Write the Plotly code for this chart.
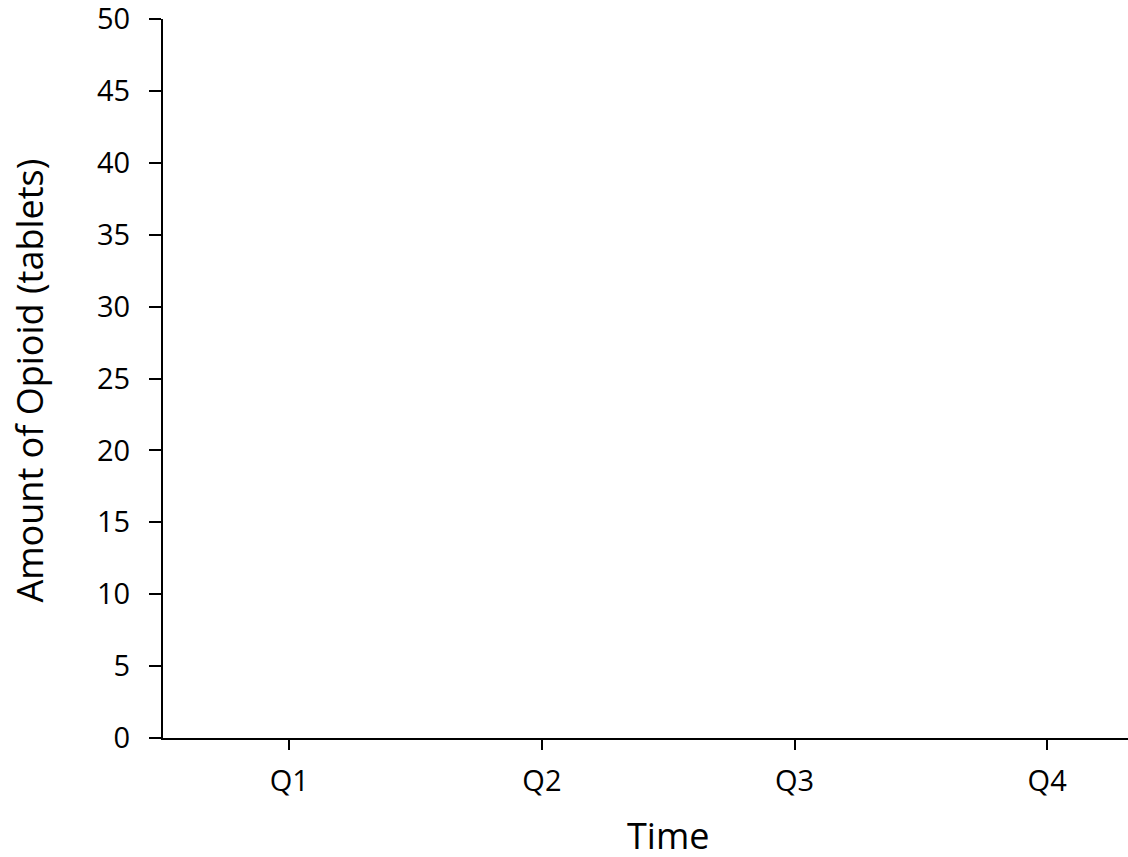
import plotly.graph_objects as go

# Data
categories = ["Q1", "Q2", "Q3", "Q4"]
opioid_amount = [None, None, None, None]  # chart shows no plotted values
y_ticks = [0, 5, 10, 15, 20, 25, 30, 35, 40, 45, 50]

FONT = "Open Sans"

fig = go.Figure()
fig.add_trace(go.Scatter(x=categories, y=opioid_amount, mode="lines+markers",
                         showlegend=False, line=dict(color="black")))

fig.update_layout(
    width=1128, height=857,
    margin=dict(l=163, r=0, t=19, b=119, autoexpand=False),
    paper_bgcolor="white", plot_bgcolor="white",
    font=dict(family=FONT, size=30, color="black"),
    showlegend=False,
)

fig.update_xaxes(
    type="category", categoryorder="array", categoryarray=categories,
    range=[-0.5, 3.32], automargin=False,
    showline=True, linecolor="black", linewidth=2,
    ticks="outside", ticklen=10, tickwidth=2, tickcolor="black",
    showgrid=False, zeroline=False,
    tickfont=dict(family=FONT, size=29),
    ticklabelstandoff=6,
)
fig.update_yaxes(
    range=[0, 50], tickmode="array", tickvals=y_ticks, automargin=False,
    showline=True, linecolor="black", linewidth=2,
    ticks="outside", ticklen=12, tickwidth=2, tickcolor="black",
    showgrid=False, zeroline=False,
    tickfont=dict(family=FONT, size=29),
    ticklabelstandoff=13, ticklabeloverflow="allow",
)

# Axis titles (x title centred on the full category span as in the original)
fig.add_annotation(text="Time", x=1.5, xref="x", y=-0.135, yref="paper",
                   yanchor="middle", showarrow=False,
                   font=dict(family=FONT, size=36))
fig.add_annotation(text="Amount of Opioid (tablets)", x=-0.138, xref="paper",
                   y=0.497, yref="paper", textangle=-90, xanchor="center",
                   yanchor="middle", showarrow=False,
                   font=dict(family=FONT, size=36))

fig.write_html("out.html", config={"displayModeBar": False},
               post_script="document.body.style.margin='0px';")
